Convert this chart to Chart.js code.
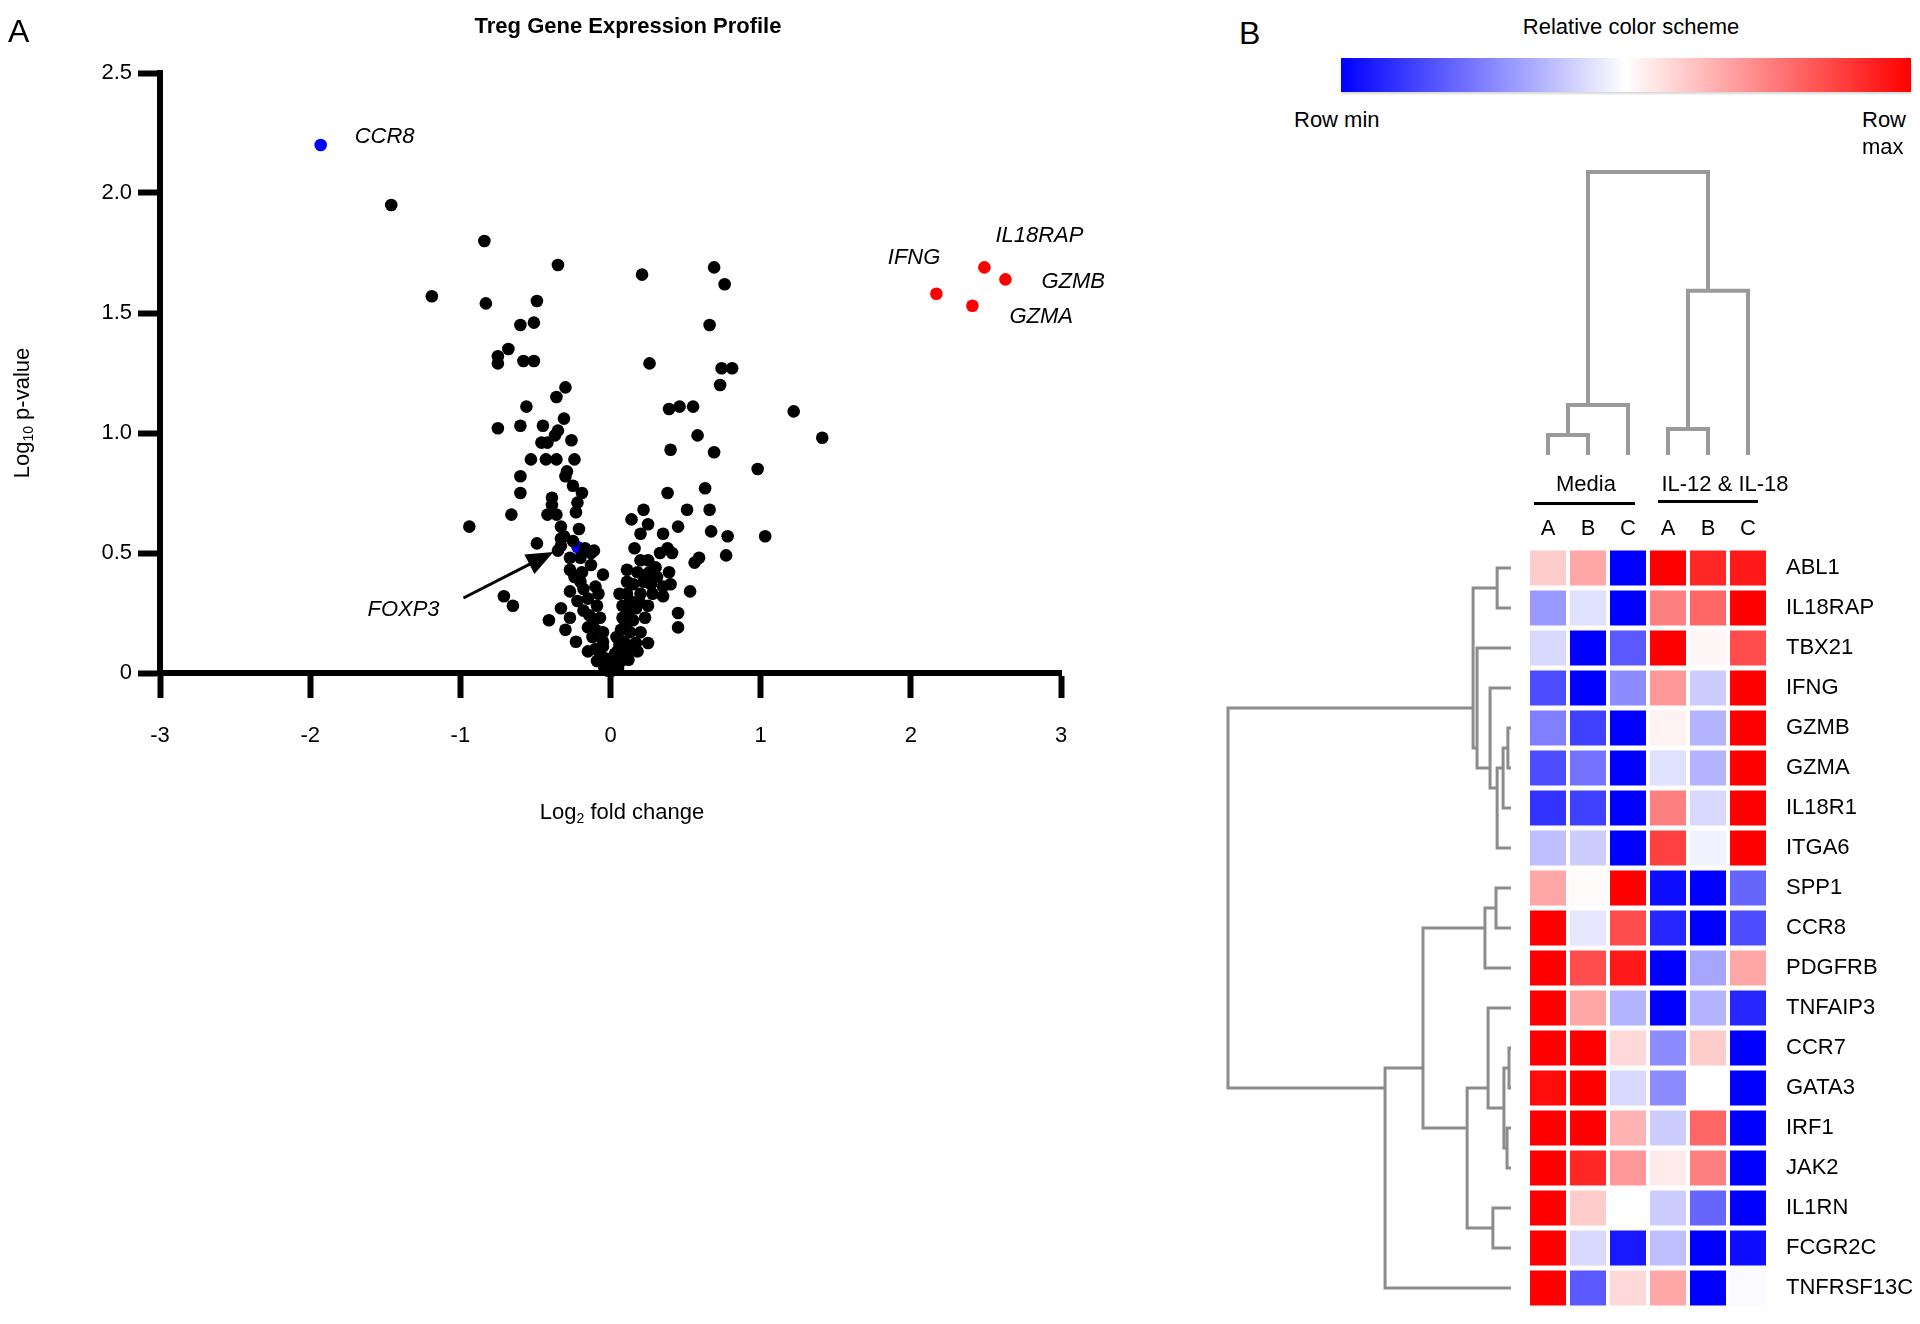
<!DOCTYPE html>
<html>
<head>
<meta charset="utf-8">
<script src="https://cdn.jsdelivr.net/npm/chart.js@4.4.1/dist/chart.umd.min.js"></script>
<style>
  body { margin: 0; width: 1920px; height: 1324px; position: relative; overflow: hidden; background: #fff;
         font-family: "Liberation Sans", Arial, sans-serif; color: #000; }
  canvas { position: absolute; }
  .t { position: absolute; white-space: nowrap; line-height: 1; font-size: 22px; }
  .c { transform: translate(-50%, -50%); }
  .l { transform: translateY(-50%); }
  .t sub { font-size: 14px; vertical-align: -4px; line-height: 0; }
</style>
</head>
<body>
<canvas id="volcano" width="1120" height="880" style="left:0;top:0"></canvas>
<canvas id="colTree" width="420" height="330" style="left:1500px;top:150px"></canvas>
<canvas id="rowTree" width="330" height="844" style="left:1200px;top:480px"></canvas>
<canvas id="heat" width="420" height="880" style="left:1500px;top:480px"></canvas>

<div class="t l" style="left:8px;top:31px;font-size:32px">A</div>
<div class="t c" style="left:628px;top:26px;font-weight:bold">Treg Gene Expression Profile</div>
<div class="t c" style="left:22px;top:413px;transform:translate(-50%,-50%) rotate(-90deg)">Log<sub>10</sub> p-value</div>
<div class="t c" style="left:622px;top:812px">Log<sub>2</sub> fold change</div>

<div class="t l" style="left:1239px;top:33px;font-size:32px">B</div>
<div class="t c" style="left:1631px;top:27px">Relative color scheme</div>
<div style="position:absolute;left:1341px;top:58px;width:570px;height:34px;
            background:linear-gradient(to right,#0000ff 0%,#ffffff 50%,#ff0000 100%);
            box-shadow:0 2px 2px #d8d8d8"></div>
<div class="t l" style="left:1294px;top:120px">Row min</div>
<div class="t l" style="left:1862px;top:120px">Row</div>
<div class="t l" style="left:1862px;top:147px">max</div>
<div class="t c" style="left:1586px;top:484px">Media</div>
<div class="t c" style="left:1725px;top:484px">IL-12 &amp; IL-18</div>
<div style="position:absolute;left:1534px;top:502px;width:101px;height:3px;background:#000"></div>
<div style="position:absolute;left:1658px;top:500px;width:100px;height:3px;background:#000"></div>

<script>
// ---- Panel A: volcano plot data ----
const foldChange = [
  -1.46, -0.84, -1.19, -0.35, -0.83, -0.49, -0.60, -0.51, -0.68, -0.75, -0.75, -0.58, -0.51, -0.30, -0.36,
  0.21, 0.69, 0.76, 0.66, 0.26, 0.74, 0.81, 0.73,
  -0.56, -0.31, -0.75, -0.60, -0.45, -0.35, -0.37, -0.46, -0.42, -0.26, -0.53, -0.43, -0.36, -0.24, -0.60, -0.30,
  -0.29, -0.25, -0.60, -0.39, -0.19, -0.22, -0.39, -0.66, -0.42, -0.36, -0.23, -0.94, -0.33, -0.31, -0.33, -0.49,
  -0.35, -0.33, -0.13, -0.11, -0.27, -0.20, -0.25, -0.21, -0.17, -0.27, -0.19, -0.05, -0.13, -0.24, -0.20,
  -0.71, -0.65, -0.41, -0.33, -0.27, -0.18, -0.10, -0.22, -0.15, -0.08, -0.27, -0.18, -0.09, -0.07, -0.14, -0.12,
  -0.30, -0.23, -0.15, -0.10, -0.05, -0.12, -0.05, -0.15, -0.10, -0.05, -0.07, -0.09, -0.05, -0.03, -0.02, -0.04, 0.00,
  1.22, 1.41, 0.39, 0.46, 0.55, 0.58, 0.40, 0.69, 0.98, 0.38, 0.63, 0.22, 0.51, 0.66, 0.14, 0.25, 0.45, 0.20, 0.35,
  0.67, 0.78, 1.03, 0.16, 0.33, 0.38, 0.41, 0.59, 0.56, 0.77, 0.20, 0.25, 0.11, 0.18, 0.24, 0.31, 0.39, 0.30, 0.26,
  0.53, 0.45, 0.45, 0.11, 0.15, 0.27, 0.35, 0.40, 0.22, 0.11, 0.20, 0.28, 0.35, 0.06, 0.13, 0.19, 0.08, 0.17, 0.25,
  0.12, 0.08, 0.15, 0.23, 0.10, 0.07, 0.13, 0.20, 0.04, 0.25, 0.17, 0.09, 0.06, 0.16, 0.05, 0.11, 0.18, 0.03, 0.02,
  0.07, 0.12, 0.05, 0.01, 0.03
];
const logP = [
  1.95, 1.80, 1.57, 1.70, 1.54, 1.55, 1.45, 1.46, 1.35, 1.32, 1.29, 1.30, 1.30, 1.19, 1.15,
  1.66, 1.69, 1.62, 1.45, 1.29, 1.27, 1.27, 1.20,
  1.11, 1.06, 1.02, 1.03, 1.03, 1.01, 0.99, 0.96, 0.96, 0.97, 0.89, 0.89, 0.89, 0.89, 0.82, 0.82,
  0.84, 0.78, 0.75, 0.73, 0.75, 0.71, 0.70, 0.66, 0.66, 0.66, 0.67, 0.61, 0.61, 0.57, 0.56, 0.54,
  0.51, 0.53, 0.50, 0.51, 0.48, 0.48, 0.55, 0.60, 0.52, 0.43, 0.42, 0.41, 0.45, 0.40, 0.38,
  0.32, 0.28, 0.22, 0.27, 0.34, 0.35, 0.36, 0.30, 0.31, 0.33, 0.23, 0.26, 0.28, 0.23, 0.24, 0.20,
  0.18, 0.13, 0.19, 0.18, 0.17, 0.15, 0.13, 0.09, 0.10, 0.11, 0.08, 0.05, 0.04, 0.06, 0.01, 0.02, 0.025,
  1.09, 0.98, 1.10, 1.11, 1.11, 0.99, 0.93, 0.92, 0.85, 0.75, 0.77, 0.68, 0.68, 0.68, 0.64, 0.62, 0.61, 0.58, 0.58,
  0.59, 0.57, 0.57, 0.52, 0.50, 0.52, 0.50, 0.48, 0.46, 0.49, 0.47, 0.47, 0.43, 0.42, 0.41, 0.40, 0.42, 0.44, 0.42,
  0.34, 0.25, 0.19, 0.38, 0.37, 0.37, 0.36, 0.37, 0.38, 0.33, 0.33, 0.33, 0.32, 0.33, 0.30, 0.30, 0.28, 0.27, 0.28,
  0.25, 0.23, 0.22, 0.23, 0.20, 0.18, 0.17, 0.17, 0.15, 0.125, 0.125, 0.13, 0.12, 0.12, 0.095, 0.09, 0.09, 0.08, 0.055,
  0.05, 0.055, 0.02, 0.01, 0.03
];
const upGenes = ['IFNG', 'IL18RAP', 'GZMB', 'GZMA'];
const upFC = [2.17, 2.49, 2.63, 2.41];
const upP = [1.58, 1.69, 1.64, 1.53];
const downGenes = ['CCR8', 'FOXP3'];
const downFC = [-1.93, -0.22];
const downP = [2.20, 0.525];

// ---- Panel B: heatmap data ----
const genes = ['ABL1', 'IL18RAP', 'TBX21', 'IFNG', 'GZMB', 'GZMA', 'IL18R1', 'ITGA6', 'SPP1', 'CCR8',
  'PDGFRB', 'TNFAIP3', 'CCR7', 'GATA3', 'IRF1', 'JAK2', 'IL1RN', 'FCGR2C', 'TNFRSF13C'];
const sampleLetters = ['A', 'B', 'C', 'A', 'B', 'C'];
// row-relative expression, -1 = row min, 1 = row max
const mediaA = [0.2, -0.4, -0.15, -0.7, -0.5, -0.7, -0.8, -0.25, 0.35, 1, 1, 1, 1, 0.95, 1, 1, 1, 1, 1];
const mediaB = [0.35, -0.12, -1, -1, -0.75, -0.55, -0.75, -0.2, 0.02, -0.1, 0.7, 0.35, 1, 1, 1, 0.85, 0.2, -0.15, -0.65];
const mediaC = [-1, -1, -0.65, -0.45, -1, -1, -1, -1, 1, 0.7, 0.9, -0.3, 0.15, -0.15, 0.3, 0.4, 0, -0.9, 0.15];
const ilA = [1, 0.5, 1, 0.4, 0.05, -0.12, 0.5, 0.75, -0.95, -0.85, -1, -1, -0.45, -0.45, -0.2, 0.08, -0.2, -0.25, 0.35];
const ilB = [0.85, 0.6, 0.03, -0.2, -0.3, -0.3, -0.15, -0.05, -1, -1, -0.35, -0.3, 0.2, 0, 0.6, 0.5, -0.6, -1, -1];
const ilC = [0.9, 1, 0.7, 1, 1, 1, 1, 1, -0.6, -0.7, 0.35, -0.85, -1, -1, -1, -1, -1, -0.95, -0.02];

// dendrograms: [childA, childB, height]; leaves are 0..n-1, merged nodes follow
const rowMerges = [
  [0, 1, 0.049], [4, 5, 0.011], [20, 6, 0.028], [21, 7, 0.049], [3, 22, 0.074], [2, 23, 0.120],
  [19, 24, 0.134], [8, 9, 0.053], [26, 10, 0.092], [12, 13, 0.007], [14, 15, 0.014], [28, 29, 0.025],
  [11, 30, 0.081], [16, 17, 0.064], [31, 32, 0.155], [27, 33, 0.311], [34, 18, 0.445], [25, 35, 1.0]
];
const colMerges = [[0, 1, 0.071], [6, 2, 0.177], [3, 4, 0.092], [8, 5, 0.580], [7, 9, 1.0]];

Chart.defaults.font.family = '"Liberation Sans", Arial, sans-serif';
Chart.defaults.color = '#000';

const pts = (xs, ys) => xs.map((x, i) => ({ x: x, y: ys[i] }));

// label placement relative to the point (pixels)
const tagOffsets = {
  CCR8: [34, -8, 'left'], IFNG: [4, -36, 'right'], IL18RAP: [11, -32, 'left'],
  GZMB: [36, 2, 'left'], GZMA: [37, 11, 'left'], FOXP3: [-210, 63, 'left']
};

const geneTags = {
  id: 'geneTags',
  afterDatasetsDraw(chart) {
    const { ctx, scales: { x, y } } = chart;
    const tags = upGenes.map((g, i) => [g, upFC[i], upP[i]])
      .concat(downGenes.map((g, i) => [g, downFC[i], downP[i]]));
    ctx.save();
    ctx.font = 'italic 22px "Liberation Sans", Arial, sans-serif';
    ctx.fillStyle = '#000';
    ctx.textBaseline = 'middle';
    tags.forEach(([g, fc, p]) => {
      const px = x.getPixelForValue(fc), py = y.getPixelForValue(p);
      const [dx, dy, align] = tagOffsets[g];
      ctx.textAlign = align;
      ctx.fillText(g, px + dx, py + dy);
      if (g === 'FOXP3') {
        // arrow from label to the point
        const x0 = px - 114, y0 = py + 51, x1 = px - 24, y1 = py + 5;
        const a = Math.atan2(y1 - y0, x1 - x0);
        ctx.strokeStyle = '#000';
        ctx.lineWidth = 3;
        ctx.beginPath();
        ctx.moveTo(x0, y0);
        ctx.lineTo(x1 - 20 * Math.cos(a), y1 - 20 * Math.sin(a));
        ctx.stroke();
        ctx.beginPath();
        ctx.moveTo(x1, y1);
        ctx.lineTo(x1 - 27 * Math.cos(a) + 11 * Math.sin(a), y1 - 27 * Math.sin(a) - 11 * Math.cos(a));
        ctx.lineTo(x1 - 27 * Math.cos(a) - 11 * Math.sin(a), y1 - 27 * Math.sin(a) + 11 * Math.cos(a));
        ctx.closePath();
        ctx.fill();
      }
    });
    ctx.restore();
  }
};

new Chart(document.getElementById('volcano'), {
  type: 'scatter',
  data: {
    datasets: [
      { data: pts(foldChange, logP), backgroundColor: '#000', order: 1 },
      { data: pts(downFC, downP), backgroundColor: '#0000ff', order: 2 },
      { data: pts(upFC, upP), backgroundColor: '#ff0000', order: 0 }
    ]
  },
  options: {
    responsive: false,
    animation: false,
    clip: false,
    layout: { padding: { top: 73, right: 59, bottom: 0, left: 0 } },
    elements: { point: { radius: 6.3, hoverRadius: 6.3, borderWidth: 0 } },
    plugins: { legend: { display: false }, tooltip: { enabled: false } },
    scales: {
      x: {
        min: -3, max: 3,
        ticks: { stepSize: 1, padding: 25, font: { size: 22 } },
        grid: { drawOnChartArea: false, tickLength: 25, tickWidth: 6, tickColor: '#000' },
        border: { width: 6, color: '#000' },
        afterFit(s) { s.height = 207; }
      },
      y: {
        min: 0, max: 2.5,
        ticks: { stepSize: 0.5, padding: 6, font: { size: 22 },
                 callback: v => v === 0 ? '0' : v.toFixed(1) },
        grid: { drawOnChartArea: false, tickLength: 22, tickWidth: 6, tickColor: '#000' },
        border: { width: 6, color: '#000' },
        afterFit(s) { s.width = 160; }
      }
    }
  },
  plugins: [geneTags]
});

// ---- heatmap ----
function heatColor(v) {
  if (v < 0) {
    const t = Math.round(255 * (1 + v));
    return `rgb(${t},${t},255)`;
  }
  const t = Math.round(255 * (1 - v));
  return `rgb(255,${t},${t})`;
}

const samples = [mediaA, mediaB, mediaC, ilA, ilB, ilC];

// canvas runs past the page bottom so the label padding does not squeeze the rows
new Chart(document.getElementById('heat'), {
  type: 'bar',
  data: {
    labels: genes,
    datasets: samples.map((vals, c) => ({
      data: genes.map(() => [c + 0.05, c + 0.95]),
      backgroundColor: vals.map(heatColor),
      barPercentage: 0.875,
      categoryPercentage: 1,
      grouped: false,
      borderWidth: 0
    }))
  },
  options: {
    indexAxis: 'y',
    responsive: false,
    animation: false,
    layout: { padding: { left: 28, top: 0, right: 0, bottom: 52 } },
    plugins: { legend: { display: false }, tooltip: { enabled: false } },
    scales: {
      y: {
        type: 'category', position: 'right',
        grid: { display: false, drawTicks: false }, border: { display: false },
        ticks: { font: { size: 22 }, padding: 18, autoSkip: false },
        afterFit(s) { s.width = 152; }
      },
      x: {
        type: 'linear', position: 'top', min: 0, max: 6,
        grid: { display: false, drawTicks: false }, border: { display: false },
        afterBuildTicks(s) { s.ticks = sampleLetters.map((_, i) => ({ value: i + 0.5 })); },
        ticks: { font: { size: 22 }, padding: 6, maxRotation: 0, callback: (v, i) => sampleLetters[i] },
        afterFit(s) { s.height = 68; }
      }
    }
  }
});

// ---- dendrograms ----
// node position = mean of its leaf positions; each merge drawn as a bracket
function treeSegments(merges, nLeaves, leafPos) {
  const pos = [], h = [], count = [];
  for (let i = 0; i < nLeaves; i++) { pos.push(leafPos(i)); h.push(0); count.push(1); }
  return merges.map(([a, b, height]) => {
    const n = count[a] + count[b];
    pos.push((pos[a] * count[a] + pos[b] * count[b]) / n);
    h.push(height);
    count.push(n);
    return [[pos[a], h[a]], [pos[a], height], [pos[b], height], [pos[b], h[b]]];
  });
}

const colSegs = treeSegments(colMerges, 6, i => i + 0.5);
new Chart(document.getElementById('colTree'), {
  type: 'scatter',
  data: {
    datasets: colSegs.map(seg => ({
      data: seg.map(([p, hh]) => ({ x: p, y: hh })),
      showLine: true, borderColor: '#9a9a9a', borderWidth: 4, pointRadius: 0,
      borderJoinStyle: 'miter', clip: false
    }))
  },
  options: {
    responsive: false, animation: false,
    layout: { padding: { left: 28, right: 152, top: 22, bottom: 25 } },
    plugins: { legend: { display: false }, tooltip: { enabled: false } },
    scales: { x: { display: false, min: 0, max: 6 }, y: { display: false, min: 0, max: 1 } }
  }
});

const rowSegs = treeSegments(rowMerges, genes.length, i => i);
new Chart(document.getElementById('rowTree'), {
  type: 'scatter',
  data: {
    datasets: rowSegs.map(seg => ({
      data: seg.map(([p, hh]) => ({ x: hh, y: p })),
      showLine: true, borderColor: '#8c8c8c', borderWidth: 3, pointRadius: 0,
      borderJoinStyle: 'miter', clip: false
    }))
  },
  options: {
    responsive: false, animation: false,
    layout: { padding: { left: 28, right: 19, top: 68, bottom: 16 } },
    plugins: { legend: { display: false }, tooltip: { enabled: false } },
    scales: {
      x: { display: false, min: 0, max: 1, reverse: true },
      y: { display: false, min: -0.5, max: 18.5, reverse: true }
    }
  }
});
</script>
</body>
</html>
